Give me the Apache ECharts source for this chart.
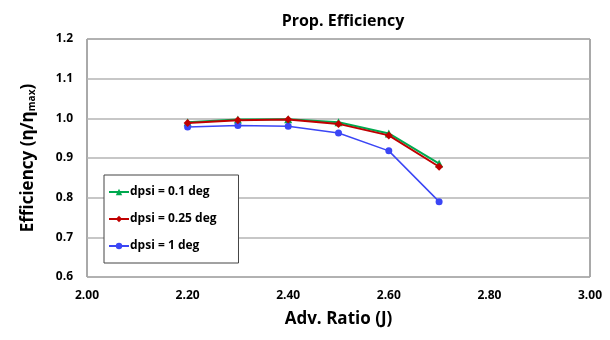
<!DOCTYPE html>
<html>
<head>
<meta charset="utf-8">
<script src="https://cdn.jsdelivr.net/npm/echarts@6/dist/echarts.min.js"></script>
<style>
  html, body { margin: 0; padding: 0; background: #fff; }
  #chart { width: 610px; height: 340px; }
</style>
</head>
<body>
<div id="chart"></div>
<script>
// data
const advRatio = [2.2, 2.3, 2.4, 2.5, 2.6, 2.7]
const effDpsi01 = [0.990, 0.997, 0.998, 0.990, 0.962, 0.886]
const effDpsi025 = [0.988, 0.995, 0.997, 0.986, 0.957, 0.878]
const effDpsi1 = [0.978, 0.982, 0.980, 0.963, 0.918, 0.790]
const seriesNames = ['dpsi = 0.1 deg', 'dpsi = 0.25 deg', 'dpsi = 1 deg']

const font = '"Open Sans", "Noto Sans", sans-serif'

function pairs (xs, ys) {
  return xs.map((x, i) => [x, ys[i]])
}

let chartDom = document.getElementById('chart')
let myChart = echarts.init(chartDom, null, { renderer: 'canvas' })

let option = {
  backgroundColor: '#fff',
  animation: false,
  title: {
    text: 'Prop. Efficiency',
    left: 338,
    textAlign: 'center',
    top: 8,
    textStyle: { fontFamily: font, fontSize: 16, fontWeight: 'bold', color: '#000' }
  },
  grid: {
    left: 87,
    right: 20,
    top: 39,
    bottom: 63,
    show: true,
    borderColor: '#555',
    borderWidth: 1
  },
  legend: {
    left: 104,
    top: 175,
    orient: 'vertical',
    itemGap: 15,
    itemWidth: 20,
    itemHeight: 8,
    padding: [11, 22, 11, 4],
    backgroundColor: '#fff',
    borderColor: '#444',
    borderWidth: 1,
    textStyle: { fontFamily: font, fontSize: 12, fontWeight: 'bold', color: '#000', padding: [0, 0, 0, -4] },
    data: seriesNames
  },
  xAxis: {
    type: 'value',
    min: 2.0,
    max: 3.0,
    interval: 0.2,
    name: 'Adv. Ratio (J)',
    nameLocation: 'middle',
    nameGap: 34,
    nameTextStyle: { fontFamily: font, fontSize: 17, fontWeight: 'bold', color: '#000' },
    axisLine: { show: false },
    axisTick: { show: false },
    splitLine: { show: false },
    axisLabel: {
      margin: 13,
      fontFamily: font, fontSize: 12, fontWeight: 'bold', color: '#000',
      formatter: v => v.toFixed(2)
    }
  },
  yAxis: {
    type: 'value',
    min: 0.6,
    max: 1.2,
    interval: 0.1,
    name: '{a|Efficiency (η/η}{s|max}{a|)}',
    nameLocation: 'middle',
    nameGap: 50,
    nameRotate: 90,
    nameTextStyle: {
      rich: {
        a: { fontFamily: font, fontSize: 17, fontWeight: 'bold', color: '#000' },
        s: { fontFamily: font, fontSize: 10, fontWeight: 'bold', color: '#000', padding: [8, 0, 0, 0] }
      }
    },
    axisLine: { show: false },
    axisTick: { show: false },
    splitLine: { lineStyle: { color: '#b4b4b4', width: 1.5 } },
    axisLabel: {
      margin: 14,
      fontFamily: font, fontSize: 12, fontWeight: 'bold', color: '#000',
      formatter: v => v.toFixed(1)
    }
  },
  series: [
    {
      name: seriesNames[0],
      type: 'line',
      data: pairs(advRatio, effDpsi01),
      symbol: 'triangle',
      symbolSize: 8,
      color: '#00a94f',
      lineStyle: { width: 2 },
      z: 2
    },
    {
      name: seriesNames[1],
      type: 'line',
      data: pairs(advRatio, effDpsi025),
      symbol: 'diamond',
      symbolSize: 8,
      color: '#c00000',
      lineStyle: { width: 2 },
      z: 3
    },
    {
      name: seriesNames[2],
      type: 'line',
      data: pairs(advRatio, effDpsi1),
      symbol: 'circle',
      symbolSize: 7,
      color: '#3b46f5',
      lineStyle: { width: 1.5 },
      z: 2
    }
  ]
}

myChart.setOption(option)
</script>
</body>
</html>
